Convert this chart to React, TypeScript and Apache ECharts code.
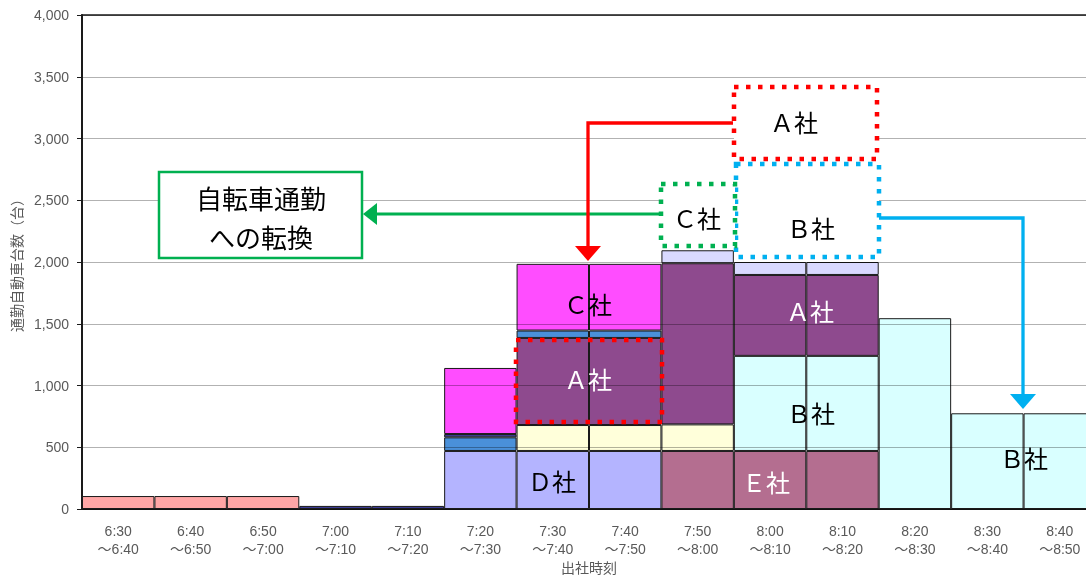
import React, { useEffect, useRef } from "react";
import * as echarts from "echarts";

const categories = [
  "6:30\n～6:40", "6:40\n～6:50", "6:50\n～7:00", "7:00\n～7:10", "7:10\n～7:20",
  "7:20\n～7:30", "7:30\n～7:40", "7:40\n～7:50", "7:50\n～8:00", "8:00\n～8:10",
  "8:10\n～8:20", "8:20\n～8:30", "8:30\n～8:40", "8:40\n～8:50",
];

const _ = null;
const earlyVals = [105, 105, 105, _, _, _, _, _, _, _, _, _, _, _];
const dVals = [_, _, _, _, _, 470, 470, 470, _, _, _, _, _, _];
const eVals = [_, _, _, _, _, _, _, _, 470, 470, 470, _, _, _];
const otherVals = [_, _, _, _, _, _, 210, 210, 215, _, _, _, _, _];
const bVals = [_, _, _, _, _, _, _, _, _, 770, 770, 1545, 775, 775];
const aVals = [_, _, _, _, _, _, 705, 705, 1305, 655, 655, _, _, _];
const blueVals = [_, _, _, _, _, 110, 60, 60, _, _, _, _, _, _];
const navyVals = [_, _, _, 25, 25, 27, _, _, _, _, _, _, _, _];
const cVals = [_, _, _, _, _, 535, 540, 540, _, _, _, _, _, _];
const topVals = [_, _, _, _, _, _, _, _, 105, 105, 105, _, _, _];

const yMin = 0;
const yMax = 4000;
const yInterval = 500;

const seriesDefs = [
  { name: "早朝", data: earlyVals, color: "#FFA6A6" },
  { name: "D社", data: dVals, color: "#B4B4FF" },
  { name: "E社", data: eVals, color: "#B46E90" },
  { name: "その他", data: otherVals, color: "#FFFFDA" },
  { name: "B社", data: bVals, color: "#D9FFFF" },
  { name: "A社", data: aVals, color: "#8E4A8E" },
  { name: "その他2", data: blueVals, color: "#4A90D9" },
  { name: "その他3", data: navyVals, color: "#3C3C96" },
  { name: "C社", data: cVals, color: "#FF4DFF" },
  { name: "その他4", data: topVals, color: "#D9D9FF" },
];

const FONT = "'Liberation Sans', 'Noto Sans CJK JP', sans-serif";
const JFONT = "'Noto Sans CJK JP', sans-serif";
const RED = "#FF0000";
const GREEN = "#00B050";
const BLUE = "#00B0F0";

function label(text: string, x: number, y: number, color: string, size = 24) {
  return {
    type: "text",
    z: 120,
    style: {
      text,
      x,
      y,
      fill: color,
      fontSize: size,
      fontFamily: JFONT,
      align: "center",
      verticalAlign: "middle",
      textAlign: "center",
      textVerticalAlign: "middle",
    },
  };
}

function dotBox(x: number, y: number, w: number, h: number, color: string, fill: string) {
  return {
    type: "rect",
    z: 110,
    shape: { x, y, width: w, height: h },
    style: { fill, stroke: color, lineWidth: 4.5, lineDash: [4.5, 7.5] },
  };
}

export default function App() {
  const ref = useRef<HTMLDivElement>(null);
  useEffect(() => {
    if (!ref.current) return;
    const chart = echarts.init(ref.current, undefined, { renderer: "svg" });
    const option: any = {
      animation: false,
      textStyle: { fontFamily: FONT },
      grid: {
        left: 82,
        top: 15,
        width: 1014,
        height: 494,
        outerBoundsMode: "none",
        containLabel: false,
        show: true,
        borderColor: "#1a1a1a",
        borderWidth: 1.5,
        backgroundColor: "transparent",
      },
      xAxis: {
        type: "category",
        data: categories,
        axisLine: { lineStyle: { color: "#1a1a1a", width: 2 } },
        axisTick: { show: false },
        axisLabel: {
          color: "#595959",
          fontSize: 14,
          lineHeight: 18,
          margin: 13,
          interval: 0,
          fontFamily: FONT,
        },
        name: "出社時刻",
        nameLocation: "middle",
        nameGap: 51,
        nameMoveOverlap: false,
        nameTextStyle: { color: "#595959", fontSize: 14, lineHeight: 14, fontFamily: JFONT },
      },
      yAxis: {
        type: "value",
        min: yMin,
        max: yMax,
        interval: yInterval,
        z: 3,
        axisLine: { show: true, lineStyle: { color: "#1a1a1a", width: 2 } },
        axisTick: { show: true, length: 5, lineStyle: { color: "#1a1a1a" } },
        axisLabel: {
          color: "#595959",
          fontSize: 14,
          margin: 13,
          fontFamily: FONT,
          formatter: (v: number) => v.toLocaleString("en-US"),
        },
        splitLine: { lineStyle: { color: "rgba(0,0,0,0.3)", width: 1 } },
        name: "通勤自動車台数（台）",
        nameLocation: "middle",
        nameRotate: 90,
        nameGap: 58,
        nameTextStyle: { color: "#595959", fontSize: 14, fontFamily: JFONT },
      },
      series: seriesDefs.map((s) => ({
        name: s.name,
        type: "bar",
        stack: "total",
        barCategoryGap: "0%",
        data: s.data,
        itemStyle: { color: s.color, borderColor: "#1a1a1a", borderWidth: 1 },
        emphasis: { disabled: true },
      })),
      graphic: {
        elements: [
          // green annotation box
          {
            type: "rect",
            z: 110,
            shape: { x: 159, y: 172, width: 203, height: 86 },
            style: { fill: "#fff", stroke: GREEN, lineWidth: 2.5 },
          },
          label("自転車通勤", 261, 197, "#000", 26),
          label("への転換", 261, 236, "#000", 26),
          // green arrow
          {
            type: "line",
            z: 105,
            shape: { x1: 660, y1: 214, x2: 372, y2: 214 },
            style: { stroke: GREEN, lineWidth: 3 },
          },
          {
            type: "polygon",
            z: 106,
            shape: { points: [[363, 214], [377, 203], [377, 225]] },
            style: { fill: GREEN },
          },
          // red arrow
          {
            type: "polyline",
            z: 115,
            shape: { points: [[733, 123], [588, 123], [588, 248]] },
            style: { stroke: RED, lineWidth: 3.3, fill: null },
          },
          {
            type: "polygon",
            z: 116,
            shape: { points: [[575, 246], [601, 246], [588, 261]] },
            style: { fill: RED },
          },
          // blue arrow
          {
            type: "polyline",
            z: 105,
            shape: { points: [[879, 218], [1023, 218], [1023, 396]] },
            style: { stroke: BLUE, lineWidth: 3.3, fill: null },
          },
          {
            type: "polygon",
            z: 106,
            shape: { points: [[1010, 394], [1036, 394], [1023, 409]] },
            style: { fill: BLUE },
          },
          // dotted boxes above bars
          dotBox(734, 87, 143, 72, RED, "#fff"),
          dotBox(736, 164, 143, 93, BLUE, "#fff"),
          dotBox(661, 184, 74, 62, GREEN, "#fff"),
          label("Ａ社", 794, 121, "#000", 24),
          label("Ｂ社", 811, 227, "#000", 24),
          label("Ｃ社", 697, 217, "#000", 24),
          // dotted box over A at 7:30-7:50
          dotBox(516, 340, 146, 82, RED, "none"),
          // labels inside bars
          label("Ｃ社", 588, 303, "#000", 24),
          label("Ａ社", 588, 378, "#fff", 24),
          label("Ｄ社", 552, 480, "#000", 24),
          label("Ｅ社", 766, 481, "#fff", 24),
          label("Ａ社", 810, 310, "#fff", 24),
          label("Ｂ社", 811, 412, "#000", 24),
          label("Ｂ社", 1024, 457, "#000", 24),
        ],
      },
    };
    chart.setOption(option);
    return () => chart.dispose();
  }, []);
  return (
    <div
      ref={ref}
      style={{ position: "fixed", left: 0, top: 0, width: 1086, height: 580, overflow: "hidden" }}
    />
  );
}
